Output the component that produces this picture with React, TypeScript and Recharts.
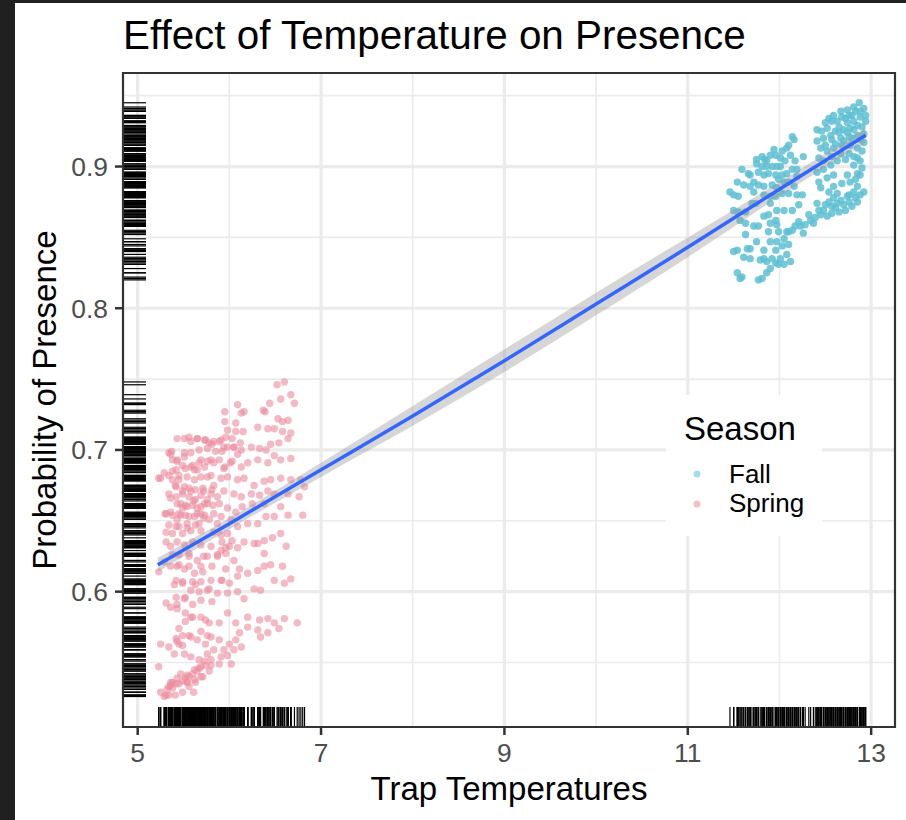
import React from 'react';
import {
  ComposedChart,
  XAxis,
  YAxis,
  Scatter,
  Line,
  Area,
  CartesianGrid,
  ReferenceArea,
  Legend,
  Label,
} from 'recharts';

const FONT = '"Liberation Sans", Arial, Helvetica, sans-serif';

// ---- axes ----
const X_DOMAIN: [number, number] = [4.84, 13.26];
const Y_DOMAIN: [number, number] = [0.5045, 0.966];
const X_TICKS = [5, 7, 9, 11, 13];
const X_MINOR = [6, 8, 10, 12];
const Y_TICKS = [0.6, 0.7, 0.8, 0.9];
const Y_MINOR = [0.55, 0.65, 0.75, 0.85, 0.95];

// ---- legend categories ----
const SEASONS = ['Fall', 'Spring'];

// ---- Spring observations: [temperature, probability] ----
const springPoints: [number, number][] = [
  [6.60,0.748],[6.52,0.746],[6.67,0.739],[6.56,0.736],[6.71,0.733],[6.44,0.733],[6.37,0.728],[6.39,0.727],[6.64,0.721],[6.53,0.722],
  [6.58,0.720],[6.49,0.715],[6.42,0.715],[6.31,0.716],[6.16,0.727],[6.09,0.732],[6.13,0.726],[5.95,0.727],[5.95,0.720],[6.07,0.719],
  [5.98,0.714],[6.07,0.713],[6.15,0.713],[6.03,0.708],[5.91,0.707],[5.83,0.706],[5.78,0.705],[5.51,0.708],[5.56,0.709],[5.65,0.708],
  [5.73,0.707],[5.37,0.699],[5.43,0.693],[5.51,0.695],[5.58,0.698],[5.67,0.700],[5.76,0.701],[5.85,0.699],[5.94,0.702],[6.05,0.702],
  [6.13,0.700],[6.24,0.702],[6.33,0.701],[6.40,0.700],[6.45,0.704],[6.54,0.705],[6.64,0.708],[6.58,0.713],[6.67,0.712],[6.49,0.696],
  [6.56,0.693],[6.67,0.694],[6.42,0.691],[6.31,0.693],[6.20,0.691],[6.13,0.688],[6.03,0.692],[5.95,0.688],[5.89,0.693],[5.80,0.693],
  [5.73,0.688],[5.65,0.686],[5.58,0.688],[5.49,0.689],[5.42,0.686],[5.34,0.682],[5.29,0.684],[5.23,0.680],[5.38,0.679],[5.45,0.679],
  [5.54,0.681],[5.62,0.679],[5.69,0.681],[5.80,0.682],[5.91,0.680],[5.98,0.681],[6.09,0.679],[6.16,0.680],[6.27,0.675],[6.38,0.678],
  [6.45,0.679],[6.56,0.680],[6.67,0.679],[6.78,0.679],[6.82,0.674],[6.76,0.667],[6.64,0.669],[6.49,0.669],[6.42,0.671],[6.33,0.668],
  [6.24,0.669],[6.13,0.667],[6.05,0.669],[5.94,0.671],[5.87,0.667],[5.80,0.669],[5.69,0.668],[5.58,0.671],[5.49,0.669],[5.42,0.667],
  [5.34,0.669],[5.47,0.662],[5.54,0.660],[5.65,0.659],[5.73,0.662],[5.82,0.661],[5.89,0.662],[5.98,0.659],[6.07,0.656],[6.14,0.660],
  [6.25,0.662],[6.38,0.662],[6.56,0.660],[6.64,0.654],[6.80,0.654],[6.49,0.653],[6.40,0.653],[6.31,0.648],[6.20,0.648],[6.09,0.646],
  [6.02,0.651],[5.91,0.653],[5.83,0.655],[5.73,0.654],[5.62,0.653],[5.52,0.654],[5.45,0.655],[5.36,0.656],[5.30,0.655],[5.31,0.642],
  [5.38,0.641],[5.49,0.641],[5.58,0.643],[5.69,0.643],[5.83,0.642],[5.91,0.640],[5.98,0.641],[6.16,0.635],[6.31,0.634],[6.38,0.636],
  [6.47,0.638],[6.56,0.641],[6.62,0.632],[6.38,0.627],[6.27,0.634],[6.09,0.631],[6.00,0.632],[5.91,0.629],[5.80,0.632],[5.69,0.633],
  [5.60,0.635],[5.51,0.633],[5.43,0.635],[5.36,0.632],[5.45,0.626],[5.56,0.625],[5.65,0.622],[5.76,0.625],[5.87,0.625],[5.96,0.627],
  [6.05,0.622],[5.69,0.618],[5.62,0.613],[5.51,0.616],[5.43,0.618],[5.36,0.618],[5.29,0.621],[5.23,0.614],[5.42,0.608],[5.49,0.606],
  [5.60,0.607],[5.69,0.607],[5.80,0.608],[5.91,0.608],[6.00,0.606],[6.09,0.611],[6.20,0.613],[6.31,0.615],[6.38,0.618],[6.45,0.619],
  [6.58,0.618],[6.67,0.609],[6.60,0.606],[6.49,0.608],[6.34,0.601],[6.27,0.602],[6.16,0.595],[6.09,0.600],[5.98,0.599],[5.87,0.599],
  [5.76,0.601],[5.67,0.600],[5.58,0.601],[5.51,0.595],[5.42,0.596],[5.36,0.589],[5.43,0.588],[5.52,0.585],[5.58,0.582],[5.69,0.582],
  [5.78,0.578],[5.89,0.578],[5.98,0.585],[6.07,0.578],[6.20,0.582],[6.33,0.580],[6.42,0.581],[6.49,0.578],[6.60,0.581],[6.74,0.578],
  [6.54,0.574],[6.42,0.571],[6.34,0.568],[6.31,0.573],[6.20,0.575],[6.11,0.571],[6.07,0.566],[6.00,0.563],[5.94,0.559],[5.89,0.566],
  [5.80,0.568],[5.74,0.563],[5.65,0.566],[5.58,0.568],[5.49,0.569],[5.45,0.563],[5.42,0.567],[5.34,0.561],[5.25,0.563],[5.40,0.556],
  [5.51,0.556],[5.58,0.554],[5.67,0.552],[5.76,0.556],[5.83,0.559],[5.91,0.554],[5.98,0.555],[6.05,0.559],[6.13,0.561],[6.02,0.549],
  [5.89,0.549],[5.80,0.548],[5.69,0.547],[5.62,0.545],[5.54,0.541],[5.47,0.542],[5.43,0.539],[5.38,0.536],[5.34,0.533],[5.29,0.526],
  [5.23,0.547],[5.54,0.536],[5.62,0.538],[5.69,0.540],[5.73,0.551],
  [5.36,0.534],[5.42,0.535],[5.49,0.537],[5.56,0.540],[5.65,0.544],[5.32,0.531],[5.25,0.529],[5.34,0.527],
  [5.38,0.693],[5.42,0.674],[5.51,0.674],[5.56,0.667],[5.63,0.665],[5.71,0.673],[5.76,0.665],[5.49,0.659],[5.60,0.661],[5.69,0.655],
  [5.43,0.651],[5.54,0.648],[5.67,0.648],[5.78,0.651],[5.87,0.648],[5.42,0.646],[5.62,0.686],[5.69,0.693],[5.76,0.681],[5.83,0.675],
  [5.43,0.708],[5.34,0.698],
  [5.25,0.680],[5.36,0.697],[5.43,0.692],[5.38,0.685],[5.45,0.682],[5.52,0.687],[5.60,0.689],[5.67,0.691],[5.76,0.692],[5.83,0.691],
  [5.41,0.675],[5.49,0.671],[5.56,0.673],[5.63,0.672],[5.72,0.671],[5.81,0.672],[5.36,0.666],[5.43,0.662],[5.52,0.661],[5.61,0.664],
  [5.69,0.660],[5.76,0.662],[5.31,0.655],[5.38,0.654],[5.47,0.654],[5.56,0.653],[5.65,0.655],[5.72,0.652],[5.34,0.647],[5.45,0.646],
  [5.54,0.645],[5.63,0.647],[5.51,0.698],[5.58,0.706],[5.65,0.708],[5.74,0.707],[5.81,0.704],[5.89,0.706],[5.96,0.709],[5.98,0.702],
  [5.92,0.699],[6.05,0.702],[6.12,0.705],[6.09,0.697],[6.01,0.691],[5.94,0.687],
  [5.31,0.527],[5.38,0.532],[5.45,0.535],[5.52,0.539],[5.60,0.542],[5.67,0.546],[5.74,0.548],[5.80,0.552],[5.41,0.527],[5.49,0.529],
  [5.56,0.533],[5.63,0.536],[5.71,0.540],[5.78,0.544],[5.36,0.536],[5.54,0.536],[5.61,0.529],[5.43,0.565],[5.49,0.562],[5.56,0.569],
  [5.69,0.572],[5.76,0.569],[5.45,0.574],[5.52,0.579],[5.60,0.582],[5.74,0.580],[5.31,0.592],[5.43,0.591],[5.60,0.591],[5.69,0.594],
  [5.81,0.593],[5.52,0.596],[5.40,0.605],[5.49,0.607],[5.63,0.605],[5.78,0.602],[5.92,0.608],[6.11,0.616],[5.96,0.616],[5.81,0.618],
  [5.71,0.614],[5.56,0.618],[5.45,0.619],[5.38,0.626],[5.31,0.635],[5.56,0.627],[5.72,0.625],[5.87,0.626],[5.96,0.631],[6.03,0.636],
  [5.92,0.635],
];

// ---- Fall observations: [temperature, probability] ----
const fallPoints: [number, number][] = [
  [12.87,0.945],[12.92,0.941],[12.81,0.942],[12.74,0.940],[12.67,0.939],[12.59,0.936],[12.54,0.934],[12.63,0.932],[12.72,0.934],[12.79,0.936],
  [12.88,0.935],[12.94,0.932],[12.85,0.929],[12.77,0.927],[12.70,0.926],[12.61,0.925],[12.52,0.927],[12.41,0.926],[12.48,0.920],[12.57,0.919],
  [12.67,0.920],[12.76,0.921],[12.85,0.922],[12.92,0.923],[12.45,0.913],[12.52,0.911],[12.43,0.906],[12.59,0.913],[12.68,0.915],[12.77,0.915],
  [12.85,0.913],[12.90,0.911],[12.81,0.907],[12.72,0.905],[12.63,0.904],[12.56,0.901],[12.81,0.901],[12.88,0.904],[12.92,0.917],[12.41,0.918],
  [12.85,0.895],[12.74,0.894],[12.88,0.894],[12.77,0.889],[12.68,0.888],[12.59,0.886],[12.85,0.886],[12.81,0.882],[12.76,0.880],[12.63,0.881],
  [12.54,0.882],[12.45,0.885],[12.43,0.889],[12.52,0.892],[12.59,0.894],
  [12.92,0.882],[12.88,0.880],[12.83,0.878],[12.76,0.875],[12.70,0.873],[12.63,0.874],[12.57,0.872],[12.50,0.873],[12.41,0.874],[12.48,0.869],
  [12.57,0.867],[12.65,0.868],[12.72,0.869],[12.52,0.865],[12.45,0.866],[12.39,0.864],[12.34,0.862],[12.28,0.859],[12.23,0.858],[12.37,0.860],
  [12.26,0.853],[12.17,0.858],[12.14,0.855],[12.08,0.854],[12.85,0.875],[12.79,0.872],
  [11.75,0.905],[11.81,0.907],[11.86,0.904],[11.94,0.912],[11.96,0.908],[12.01,0.906],[12.08,0.913],[12.14,0.921],[12.16,0.919],[12.10,0.915],
  [11.97,0.900],[11.92,0.900],[11.86,0.900],[11.81,0.900],[11.75,0.902],[11.88,0.895],[11.96,0.894],[12.03,0.894],[12.08,0.895],[12.14,0.898],
  [12.19,0.898],[12.05,0.889],[11.99,0.891],[11.92,0.887],[11.83,0.886],[11.77,0.887],[11.72,0.889],[11.68,0.894],[11.59,0.898],[12.19,0.893],
  [12.16,0.886],[12.10,0.881],[12.03,0.881],[11.96,0.879],[11.90,0.879],[11.72,0.882],[11.68,0.886],[11.66,0.895],[12.26,0.907],[12.17,0.904],
  [11.46,0.882],[11.50,0.880],[11.55,0.879],[11.54,0.889],[11.61,0.887],[11.70,0.874],[11.74,0.874],[11.55,0.868],[11.63,0.868],[11.50,0.869],
  [11.83,0.880],[11.90,0.874],[11.97,0.869],[12.05,0.869],[12.14,0.869],[12.21,0.873],[12.19,0.880],[12.25,0.880],[11.83,0.865],[11.88,0.866],
  [11.96,0.862],[11.97,0.859],[11.90,0.860],[11.77,0.858],[11.72,0.858],[11.63,0.852],[11.88,0.854],[11.99,0.854],[12.10,0.854],[12.05,0.849],
  [11.97,0.847],[11.90,0.847],[11.75,0.847],[11.68,0.842],[11.83,0.841],[11.96,0.841],[12.03,0.844],[12.10,0.845],[11.54,0.841],[11.61,0.836],
  [11.68,0.835],[11.83,0.835],[11.92,0.835],[12.01,0.835],[12.08,0.838],[12.12,0.833],[12.05,0.831],[11.96,0.832],[11.86,0.833],[11.79,0.834],
  [11.90,0.828],[11.86,0.825],[11.54,0.825],[11.57,0.821],[11.59,0.822],[11.77,0.820],[11.81,0.821],[11.99,0.831],[11.63,0.860],[11.57,0.862],
  [11.50,0.840],[11.65,0.842],
  [12.83,0.939],[12.76,0.936],[12.68,0.935],[12.88,0.939],[12.57,0.932],[12.65,0.928],[12.74,0.931],[12.81,0.932],[12.90,0.928],[12.50,0.931],
  [12.46,0.925],[12.56,0.922],[12.65,0.924],[12.74,0.924],[12.81,0.926],[12.88,0.919],[12.79,0.920],[12.70,0.918],[12.61,0.916],[12.50,0.915],
  [12.94,0.936],[12.85,0.906],[12.76,0.909],[12.67,0.909],[12.57,0.907],[12.48,0.904],[12.41,0.896],[12.48,0.898],[12.90,0.899],[12.83,0.891],
  [11.84,0.905],[11.90,0.908],[12.03,0.911],[12.06,0.904],[12.12,0.908],[11.83,0.894],[11.77,0.896],[12.01,0.900],[12.10,0.889],[11.97,0.885],
  [12.59,0.878],[12.67,0.876],[12.74,0.879],[12.54,0.875],[12.61,0.871],[12.43,0.869],[12.32,0.866],[12.21,0.861],
];

// ---- fitted smooth ----
const fitTemp = [5.22, 6, 7, 8, 9, 10, 11, 12, 12.94];
const fitProb = [0.619, 0.648, 0.686, 0.724, 0.763, 0.803, 0.843, 0.884, 0.922];
const fitLower = [0.614, 0.644, 0.681, 0.717, 0.755, 0.795, 0.836, 0.879, 0.917];
const fitUpper = [0.624, 0.652, 0.691, 0.731, 0.771, 0.811, 0.850, 0.889, 0.927];

// ---- colours ----
const SPRING_COLOR = '#EB8A9C';
const FALL_COLOR = '#5EBFD2';
const SPRING_KEY = '#F4BFC8';
const FALL_KEY = '#A6DCE7';

const springData = springPoints.map(([x, y]) => ({ x, y }));
const fallData = fallPoints.map(([x, y]) => ({ x, y }));
const allPoints = [...springPoints, ...fallPoints];
const leftRugData = allPoints.map(([, y]) => ({ x: X_DOMAIN[0], y }));
const bottomRugData = allPoints.map(([x]) => ({ x, y: Y_DOMAIN[0] }));
const fitData = fitTemp.map((x, i) => ({ x, y: fitProb[i], band: [fitLower[i], fitUpper[i]] }));

const makeDot = (color: string, opacity: number) => (props: any) => (
  <circle cx={props.cx} cy={props.cy} r={3.7} fill={color} fillOpacity={opacity} stroke="none" />
);

const LeftRug = (props: any) => (
  <line x1={props.cx} x2={props.cx + 23} y1={props.cy} y2={props.cy} stroke="#000" strokeWidth={1.2} />
);
const BottomRug = (props: any) => (
  <line x1={props.cx} x2={props.cx} y1={props.cy} y2={props.cy - 20} stroke="#000" strokeWidth={1.2} />
);

const XTick = (props: any) => (
  <text x={props.x} y={props.y + 20} textAnchor="middle" fontSize={26.4} fontFamily={FONT} fill="#4D4D4D">
    {props.payload.value}
  </text>
);
const YTick = (props: any) => (
  <text x={props.x} y={props.y + 9.4} textAnchor="end" fontSize={26.4} fontFamily={FONT} fill="#4D4D4D">
    {Number(props.payload.value).toFixed(1)}
  </text>
);

const XTitle = (props: any) => {
  const vb = props.viewBox || { x: 123, y: 727, width: 772, height: 93 };
  return (
    <text x={vb.x + vb.width / 2} y={vb.y + 73} textAnchor="middle" fontSize={33} fontFamily={FONT} fill="#000">
      Trap Temperatures
    </text>
  );
};
const YTitle = (props: any) => {
  const vb = props.viewBox || { x: 0, y: 73, width: 123, height: 654 };
  const cx = 56;
  const cy = vb.y + vb.height / 2;
  return (
    <text x={cx} y={cy} transform={`rotate(-90 ${cx} ${cy})`} textAnchor="middle" fontSize={33} fontFamily={FONT} fill="#000">
      Probability of Presence
    </text>
  );
};

const renderLegend = () => (
  <svg width={156} height={141} style={{ display: 'block' }}>
    <rect x={0} y={0} width={156} height={141} fill="#FFFFFF" />
    <text x={18} y={45} fontSize={33} fontFamily={FONT} fill="#000">Season</text>
    <circle cx={31} cy={79} r={3.5} fill={FALL_KEY} />
    <text x={63} y={88} fontSize={26} fontFamily={FONT} fill="#000">{SEASONS[0]}</text>
    <circle cx={31} cy={109} r={3.5} fill={SPRING_KEY} />
    <text x={63} y={117} fontSize={26} fontFamily={FONT} fill="#000">{SEASONS[1]}</text>
  </svg>
);

export default function App() {
  return (
    <div style={{ position: 'absolute', left: 0, top: 0, width: 906, height: 820, background: '#FFFFFF', overflow: 'hidden' }}>
      <div style={{ position: 'absolute', left: 0, top: 0, width: 15, height: 820, background: '#202020' }} />
      <div style={{ position: 'absolute', left: 0, top: 0, width: 906, height: 3, background: '#202020' }} />
      <div style={{ position: 'absolute', left: 0, top: 0 }}>
        <ComposedChart
          width={906}
          height={820}
          margin={{ top: 73, right: 11, bottom: 0, left: 0 }}
          style={{ fontFamily: FONT }}
        >
          <CartesianGrid
            horizontalValues={Y_MINOR}
            verticalValues={X_MINOR}
            stroke="#EBEBEB"
            strokeWidth={1.6}
            fill="#FFFFFF"
          />
          <CartesianGrid
            horizontalValues={Y_TICKS}
            verticalValues={X_TICKS}
            stroke="#EBEBEB"
            strokeWidth={3.2}
          />
          <XAxis
            type="number"
            dataKey="x"
            domain={X_DOMAIN}
            ticks={X_TICKS}
            allowDataOverflow
            axisLine={false}
            tickLine={{ stroke: '#333333', strokeWidth: 2.5 }}
            tickSize={8}
            tickMargin={7}
            height={93}
            tick={<XTick />}
            interval={0}
          >
            <Label content={<XTitle />} />
          </XAxis>
          <YAxis
            type="number"
            dataKey="y"
            domain={Y_DOMAIN}
            ticks={Y_TICKS}
            allowDataOverflow
            axisLine={false}
            tickLine={{ stroke: '#333333', strokeWidth: 2.5 }}
            tickSize={8}
            tickMargin={7}
            width={123}
            tick={<YTick />}
            interval={0}
          >
            <Label content={<YTitle />} />
          </YAxis>
          <Scatter name="Spring" data={springData} shape={makeDot(SPRING_COLOR, 0.6)} isAnimationActive={false} />
          <Scatter name="Fall" data={fallData} shape={makeDot(FALL_COLOR, 0.85)} isAnimationActive={false} />
          <Scatter name="rugY" data={leftRugData} shape={LeftRug} isAnimationActive={false} legendType="none" />
          <Scatter name="rugX" data={bottomRugData} shape={BottomRug} isAnimationActive={false} legendType="none" />
          <Area
            data={fitData}
            dataKey="band"
            type="monotone"
            stroke="none"
            fill="#999999"
            fillOpacity={0.4}
            isAnimationActive={false}
            legendType="none"
            zIndex={650}
          />
          <Line
            data={fitData}
            dataKey="y"
            type="monotone"
            stroke="#3366FF"
            strokeWidth={3.5}
            dot={false}
            activeDot={false}
            isAnimationActive={false}
            legendType="none"
            zIndex={700}
          />
          <ReferenceArea
            x1={X_DOMAIN[0]}
            x2={X_DOMAIN[1]}
            y1={Y_DOMAIN[0]}
            y2={Y_DOMAIN[1]}
            fill="none"
            fillOpacity={0}
            stroke="#333333"
            strokeWidth={2.2}
            ifOverflow="visible"
            zIndex={800}
          />
          <Legend
            content={renderLegend}
            layout="horizontal"
            verticalAlign="middle"
            align="center"
            wrapperStyle={{ left: 666, top: 395, width: 156, height: 141 }}
          />
        </ComposedChart>
      </div>
      <svg width={906} height={80} style={{ position: 'absolute', left: 0, top: 0, pointerEvents: 'none' }}>
        <text x={123} y={49} fontSize={40.4} fontFamily={FONT} fill="#000">
          Effect of Temperature on Presence
        </text>
      </svg>
    </div>
  );
}
